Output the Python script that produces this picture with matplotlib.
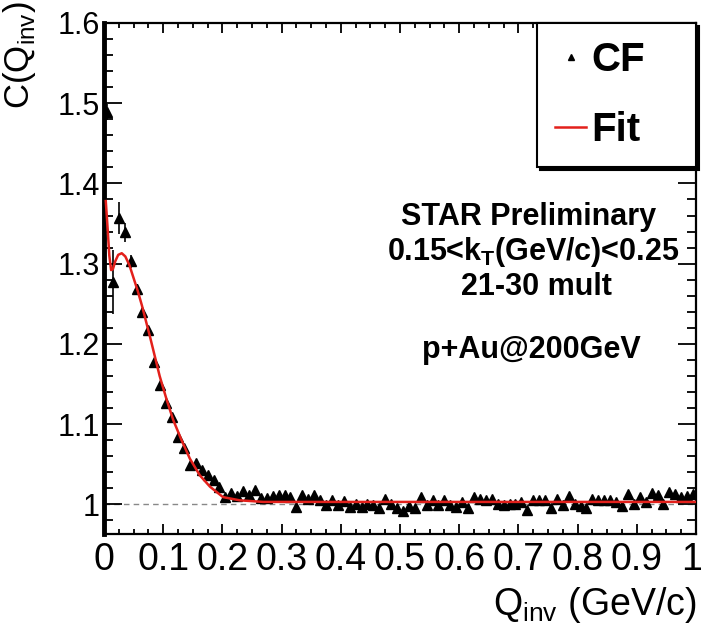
import numpy as np
import matplotlib
matplotlib.use('Agg')
import matplotlib.pyplot as plt
import matplotlib.transforms as mtransforms
from matplotlib.ticker import MultipleLocator, FixedLocator, FixedFormatter

plt.rcParams['font.family'] = ['Liberation Sans', 'DejaVu Sans']
plt.rcParams['mathtext.fontset'] = 'custom'
plt.rcParams['mathtext.rm'] = 'Liberation Sans'
plt.rcParams['mathtext.bf'] = 'Liberation Sans:bold'

# correlation function, bin centres (GeV/c)
q_inv = [0.005, 0.015, 0.025, 0.035, 0.045, 0.055, 0.065, 0.075, 0.085, 0.095,
         0.105, 0.115, 0.125, 0.135, 0.145, 0.155, 0.165, 0.175, 0.185, 0.195,
         0.205, 0.215, 0.225, 0.235, 0.245, 0.255, 0.265, 0.275, 0.285, 0.295,
         0.305, 0.315, 0.325, 0.335, 0.345, 0.355, 0.365, 0.375, 0.385, 0.395,
         0.405, 0.415, 0.425, 0.435, 0.445, 0.455, 0.465, 0.475, 0.485, 0.495,
         0.505, 0.515, 0.525, 0.535, 0.545, 0.555, 0.565, 0.575, 0.585, 0.595,
         0.605, 0.615, 0.625, 0.635, 0.645, 0.655, 0.665, 0.675, 0.685, 0.695,
         0.705, 0.715, 0.725, 0.735, 0.745, 0.755, 0.765, 0.775, 0.785, 0.795,
         0.805, 0.815, 0.825, 0.835, 0.845, 0.855, 0.865, 0.875, 0.885, 0.895,
         0.905, 0.915, 0.925, 0.935, 0.945, 0.955, 0.965, 0.975, 0.985, 0.995]
cf = [1.489, 1.277, 1.357, 1.339, 1.303, 1.269, 1.240, 1.217, 1.178, 1.149,
      1.126, 1.109, 1.084, 1.070, 1.049, 1.052, 1.043, 1.036, 1.030, 1.022,
      1.009, 1.014, 1.010, 1.016, 1.011, 1.018, 1.008, 1.008, 1.010, 1.011,
      1.011, 1.009, 0.997, 1.011, 1.007, 1.012, 1.005, 0.999, 1.005, 0.999,
      1.004, 0.997, 1.001, 0.997, 1.001, 0.999, 0.995, 1.007, 1.000, 0.995,
      0.992, 0.998, 0.995, 1.009, 0.999, 1.006, 0.999, 1.005, 0.999, 0.997,
      1.003, 0.995, 1.009, 1.007, 1.005, 1.007, 1.001, 0.999, 1.000, 1.001,
      1.003, 0.993, 1.005, 1.006, 1.006, 0.995, 1.007, 0.999, 1.010, 1.001,
      0.998, 0.995, 1.007, 1.006, 1.006, 1.006, 1.003, 0.998, 1.013, 1.001,
      1.009, 1.003, 1.014, 1.011, 1.001, 1.015, 1.013, 1.009, 1.010, 1.013]
cf_err = [0.010, 0.040, 0.020, 0.012, 0.008, 0.006, 0.005] + [0.003] * 93

# fit curve
fit_q = [0.003, 0.006, 0.009, 0.012, 0.015, 0.019, 0.024, 0.030, 0.036, 0.043,
         0.050, 0.057, 0.064, 0.071, 0.078, 0.085, 0.094, 0.106, 0.117, 0.131,
         0.145, 0.162, 0.179, 0.201, 0.229, 0.269, 0.350, 1.000]
fit_c = [1.378, 1.345, 1.310, 1.292, 1.293, 1.303, 1.311, 1.313, 1.309, 1.298,
         1.282, 1.266, 1.248, 1.228, 1.208, 1.187, 1.160, 1.130, 1.105, 1.080,
         1.057, 1.036, 1.022, 1.009, 1.005, 1.003, 1.003, 1.003]

x_ticks = [0, 0.1, 0.2, 0.3, 0.4, 0.5, 0.6, 0.7, 0.8, 0.9, 1.0]
x_ticklabels = ['0', '0.1', '0.2', '0.3', '0.4', '0.5', '0.6', '0.7', '0.8', '0.9', '1']
y_ticks = [1.0, 1.1, 1.2, 1.3, 1.4, 1.5, 1.6]
y_ticklabels = ['1', '1.1', '1.2', '1.3', '1.4', '1.5', '1.6']

fig = plt.figure(figsize=(7.04, 6.33), dpi=100)
ax = fig.add_axes([104/704, 1-534/633, 592/704, 511/633])

ax.axhline(1.0, color='#888888', lw=1, ls=(0, (4, 3)), zorder=1)
ax.errorbar(q_inv, cf, yerr=cf_err, fmt='none', ecolor='black', elinewidth=1.2, zorder=2)
pts, = ax.plot(q_inv, cf, '^', color='black', ms=6.5, zorder=3, label='CF')
fitl, = ax.plot(fit_q, fit_c, '-', color='#e3201b', lw=1.8, zorder=4, label='Fit')

ax.set_xlim(0, 1)
ax.set_ylim(0.963, 1.6)
ax.xaxis.set_major_locator(FixedLocator(x_ticks))
ax.xaxis.set_major_formatter(FixedFormatter(x_ticklabels))
ax.xaxis.set_minor_locator(MultipleLocator(0.025))
ax.yaxis.set_major_locator(FixedLocator(y_ticks))
ax.yaxis.set_major_formatter(FixedFormatter(y_ticklabels))
ax.yaxis.set_minor_locator(MultipleLocator(0.02))

ax.tick_params(which='both', direction='in', top=True, right=True, width=1.3)
ax.tick_params(axis='x', which='major', length=7, labelsize=27, pad=6)
ax.tick_params(axis='x', which='minor', length=3.5)
ax.tick_params(axis='y', which='major', length=13, labelsize=22, pad=3)
ax.tick_params(axis='y', which='minor', length=6.5)
for s in ['top', 'right', 'bottom']:
    ax.spines[s].set_linewidth(1.6)
ax.spines['left'].set_linewidth(3.5)

# nudge the last x label so it stays inside the figure
last = ax.get_xticklabels()[-1]
last.set_transform(last.get_transform() + mtransforms.ScaledTranslation(-4/100, 0, fig.dpi_scale_trans))

leg = ax.legend(handles=[pts, fitl], loc='upper left', bbox_to_anchor=(0.732, 0.73, 0.268, 0.27),
                mode='expand', borderaxespad=0, frameon=True, fancybox=False,
                shadow={'color': 'black', 'alpha': 1.0}, prop={'weight': 'bold', 'size': 29},
                handlelength=0.75, handletextpad=0.15, borderpad=0.45, labelspacing=0.8)
leg.get_frame().set_edgecolor('black')
leg.get_frame().set_linewidth(1.5)
leg.legend_handles[0].set_markersize(5)

ax.text(0.718, 1.358, 'STAR Preliminary', ha='center', va='center', fontsize=22, fontweight='bold')
ax.text(0.725, 1.314, r'0.15<k$_{\mathbf{T}}$(GeV/c)<0.25', ha='center', va='center',
        fontsize=22, fontweight='bold')
ax.text(0.730, 1.271, '21-30 mult', ha='center', va='center', fontsize=22, fontweight='bold')
ax.text(0.722, 1.192, 'p+Au@200GeV', ha='center', va='center', fontsize=22, fontweight='bold')

fig.text(19/704, 1 - 1/633, r'C(Q$_{\mathrm{inv}}$)', rotation=90, ha='center', va='top', fontsize=25)
fig.text(697/704, 1 - 615/633, r'Q$_{\mathrm{inv}}$ (GeV/c)', ha='right', va='baseline', fontsize=27)

fig.savefig('out.png', dpi=100)
